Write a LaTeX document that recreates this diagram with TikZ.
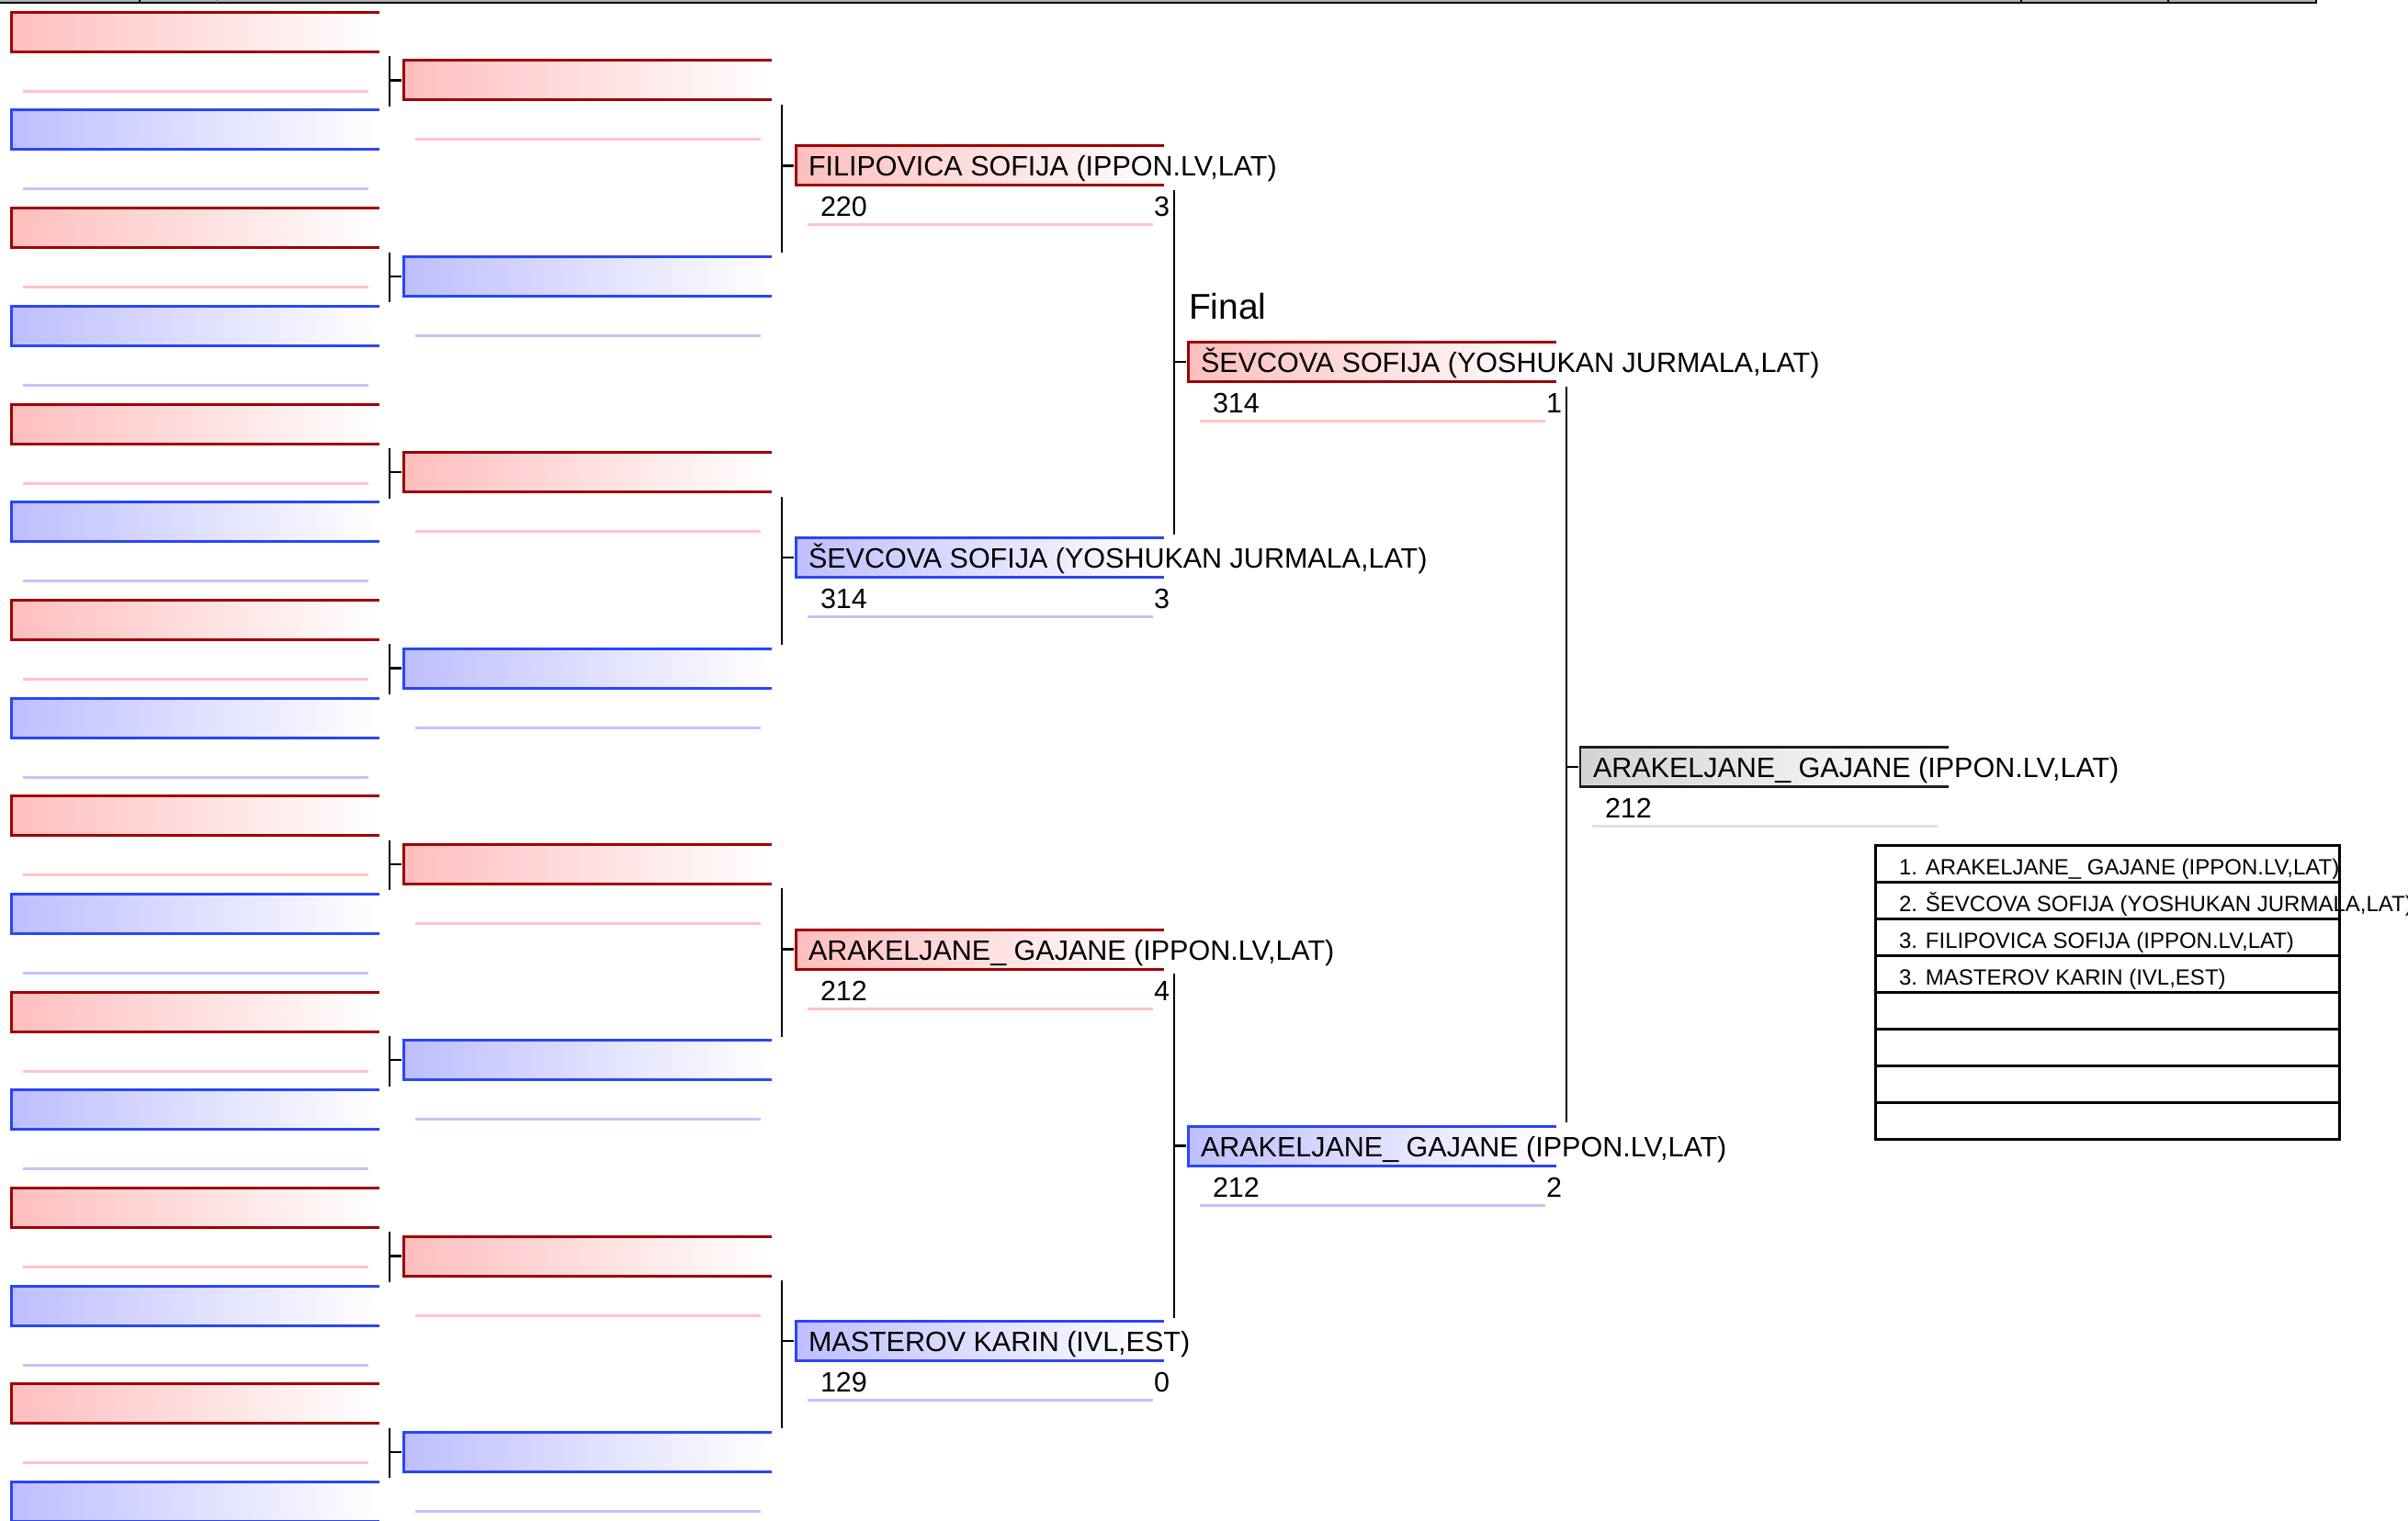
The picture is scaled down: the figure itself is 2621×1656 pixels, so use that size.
\documentclass[tikz,border=0pt]{standalone}
\usepackage{fontspec}
\setmainfont{Liberation Sans}
\usetikzlibrary{calc}
\definecolor{redborder}{RGB}{160,0,0}
\definecolor{redfill}{RGB}{255,190,190}
\definecolor{blueborder}{RGB}{40,70,250}
\definecolor{bluefill}{RGB}{190,190,255}
\definecolor{pinkline}{RGB}{255,195,195}
\definecolor{blueline}{RGB}{195,195,250}
\definecolor{grayline}{RGB}{225,225,225}
\definecolor{grayfill}{RGB}{212,212,212}
\definecolor{grayborder}{RGB}{30,30,30}
\tikzset{
 slot/.style={rectangle, inner sep=0pt, outer sep=0pt, minimum width=401pt, minimum height=43pt, anchor=north west},
 fillr/.style={left color=redfill, right color=white},
 fillb/.style={left color=bluefill, right color=white},
 fillg/.style={left color=grayfill, right color=white},
 edger/.style={draw=redborder, line width=3pt},
 edgeb/.style={draw=blueborder, line width=3pt},
 edgeg/.style={draw=grayborder, line width=2.5pt},
 scorer/.style={draw=pinkline, line width=3pt},
 scoreb/.style={draw=blueline, line width=3pt},
 scoreg/.style={draw=grayline, line width=3pt},
 conn/.style={draw=black, line width=2.5pt},
 txt/.style={inner sep=0pt, outer sep=0pt, font=\fontsize{30.5}{36}\selectfont, text=black},
 ranktxt/.style={inner sep=0pt, outer sep=0pt, font=\fontsize{24}{28}\selectfont, text=black},
 rankrow/.style={rectangle, draw=black, line width=3pt, inner sep=0pt, outer sep=0pt, minimum width=505pt, minimum height=40pt, anchor=north west},
}
\newcommand\slotbox[4]{%
 \node[slot, fill#2] (#1) at (#3,#4) {};
 \draw[edge#2] (#1.north east) -- (#1.north west) -- (#1.south west) -- (#1.south east);
 \draw[score#2] ($(#1.north west)+(13,86)$) -- ($(#1.north west)+(389,86)$);
}
\newcommand\bracketto[3]{%
 \draw[conn] ($(#1.south -| #3.west)+(-15,5)$) -- ($(#2.north -| #3.west)+(-15,-4)$);
 \draw[conn] ($(#3.west)+(-15,0)$) -- ($(#3.west)+(-2,0)$);
}
\newcommand\slotname[2]{%
 \node[txt, anchor=base west] (#1name) at ($(#1.north west)+(14,33)$) {#2};
}
\newcommand\slotscore[3]{%
 \node[txt, anchor=base west] (#1pts) at ($(#1.north west)+(27,77)$) {#2};
 \node[txt, anchor=base east] (#1res) at ($(#1.north east)+(6,77)$) {#3};
}
\begin{document}
\begin{tikzpicture}[x=1pt,y=-1pt]
\useasboundingbox (0,0) rectangle (2621,1656);
% top band
\fill[gray!60] (0,0) rectangle (2521,2);
\draw[line width=2.5pt] (0,3) -- (2521,3);
\foreach \xx in {152,2200,2360,2521} \draw[line width=2pt] (\xx,0) -- (\xx,4);
\draw[line width=1pt, gray] (236,0) -- (236,3);
% column 1
\slotbox{a0}{r}{12}{13.3}
\slotbox{a1}{b}{12}{120.0}
\slotbox{a2}{r}{12}{226.6}
\slotbox{a3}{b}{12}{333.3}
\slotbox{a4}{r}{12}{440.0}
\slotbox{a5}{b}{12}{546.6}
\slotbox{a6}{r}{12}{653.3}
\slotbox{a7}{b}{12}{760.0}
\slotbox{a8}{r}{12}{866.7}
\slotbox{a9}{b}{12}{973.3}
\slotbox{a10}{r}{12}{1080.0}
\slotbox{a11}{b}{12}{1186.7}
\slotbox{a12}{r}{12}{1293.3}
\slotbox{a13}{b}{12}{1400.0}
\slotbox{a14}{r}{12}{1506.7}
\slotbox{a15}{b}{12}{1613.3}
% column 2
\slotbox{b0}{r}{439}{66}
\slotbox{b1}{b}{439}{279.3}
\slotbox{b2}{r}{439}{492.7}
\slotbox{b3}{b}{439}{706}
\slotbox{b4}{r}{439}{919.3}
\slotbox{b5}{b}{439}{1132.7}
\slotbox{b6}{r}{439}{1346}
\slotbox{b7}{b}{439}{1559.3}
% column 3
\slotbox{c0}{r}{866}{159}
\slotbox{c1}{b}{866}{585.7}
\slotbox{c2}{r}{866}{1012}
\slotbox{c3}{b}{866}{1438.7}
% column 4
\slotbox{d0}{r}{1293}{372.7}
\slotbox{d1}{b}{1293}{1226}
% winner
\slotbox{e0}{g}{1720}{813.5}
% brackets
\bracketto{a0}{a1}{b0}
\bracketto{a2}{a3}{b1}
\bracketto{a4}{a5}{b2}
\bracketto{a6}{a7}{b3}
\bracketto{a8}{a9}{b4}
\bracketto{a10}{a11}{b5}
\bracketto{a12}{a13}{b6}
\bracketto{a14}{a15}{b7}
\bracketto{b0}{b1}{c0}
\bracketto{b2}{b3}{c1}
\bracketto{b4}{b5}{c2}
\bracketto{b6}{b7}{c3}
\bracketto{c0}{c1}{d0}
\bracketto{c2}{c3}{d1}
\bracketto{d0}{d1}{e0}
% texts
\slotname{c0}{FILIPOVICA SOFIJA (IPPON.LV,LAT)}
\slotscore{c0}{220}{3}
\slotname{c1}{ŠEVCOVA SOFIJA (YOSHUKAN JURMALA,LAT)}
\slotscore{c1}{314}{3}
\slotname{c2}{ARAKELJANE\_ GAJANE (IPPON.LV,LAT)}
\slotscore{c2}{212}{4}
\slotname{c3}{MASTEROV KARIN (IVL,EST)}
\slotscore{c3}{129}{0}
\slotname{d0}{ŠEVCOVA SOFIJA (YOSHUKAN JURMALA,LAT)}
\slotscore{d0}{314}{1}
\slotname{d1}{ARAKELJANE\_ GAJANE (IPPON.LV,LAT)}
\slotscore{d1}{212}{2}
\slotname{e0}{ARAKELJANE\_ GAJANE (IPPON.LV,LAT)}
\node[txt, anchor=base west] (e0pts) at ($(e0.north west)+(27,77)$) {212};
\node[txt, font=\fontsize{39}{46}\selectfont, anchor=base west] (final) at (1294,347) {Final};
% ranking table
\foreach \i/\yy in {1/920,2/960,3/1000,4/1040,5/1080,6/1120,7/1160,8/1200}
  \node[rankrow] (rk\i) at (2041,\yy) {};
\node[ranktxt, anchor=base west] (rt1) at ($(rk1.north west)+(26,32)$) {1. ARAKELJANE\_ GAJANE (IPPON.LV,LAT)};
\node[ranktxt, anchor=base west] (rt2) at ($(rk2.north west)+(26,32)$) {2. ŠEVCOVA SOFIJA (YOSHUKAN JURMALA,LAT)};
\node[ranktxt, anchor=base west] (rt3) at ($(rk3.north west)+(26,32)$) {3. FILIPOVICA SOFIJA (IPPON.LV,LAT)};
\node[ranktxt, anchor=base west] (rt4) at ($(rk4.north west)+(26,32)$) {3. MASTEROV KARIN (IVL,EST)};
\end{tikzpicture}
\end{document}
